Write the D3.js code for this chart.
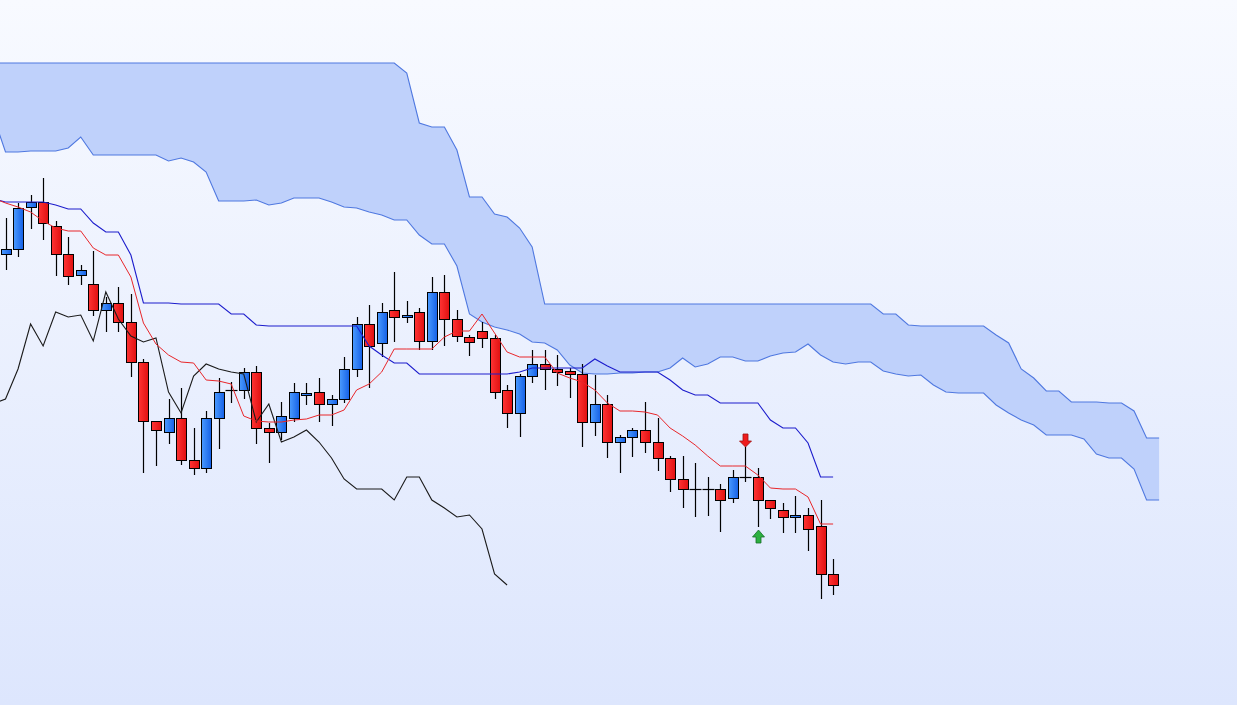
<!DOCTYPE html>
<html><head><meta charset="utf-8">
<script src="https://cdn.jsdelivr.net/npm/d3@7"></script>
<style>html,body{margin:0;padding:0;overflow:hidden;background:#eef2fe}</style>
</head><body><svg id="c" width="1237" height="705"></svg>
<script>
// ---- candle data (index 0..66) ----
const opens  = [134.6,135.1,139.3,139.8,137.4,134.6,132.5,131.6,129.0,129.7,127.8,123.8,117.9,116.8,118.2,114.0,113.2,118.2,121.0,121.0,122.8,117.2,116.8,118.2,120.5,120.8,119.6,120.1,123.1,127.6,125.7,129.0,128.3,128.8,125.9,130.8,128.1,126.3,126.9,126.2,121.0,118.7,122.4,123.6,123.1,122.9,122.6,117.8,119.6,115.8,116.3,117.0,115.8,114.2,112.1,111.1,111.1,111.1,110.2,112.3,112.3,110.0,109.0,108.3,108.5,107.4,102.6];
const highs  = [138.2,139.7,140.5,142.2,137.9,136.3,133.5,134.9,130.3,131.3,130.6,124.1,117.9,120.1,121.2,117.2,118.9,122.2,121.8,123.2,123.4,117.7,119.8,121.7,121.7,122.2,120.5,124.3,128.3,129.5,129.7,132.8,129.9,129.2,132.3,132.5,129.0,126.5,127.8,126.5,121.5,122.6,125.0,125.0,124.5,123.2,123.6,122.5,120.5,116.5,117.2,119.8,118.2,114.4,114.4,113.7,112.3,111.6,113.0,115.3,113.2,110.0,109.7,110.4,109.2,110.0,104.1];
const lows   = [133.0,134.3,137.1,136.0,132.4,131.5,131.5,128.4,126.8,126.8,122.3,112.7,113.4,115.6,113.5,112.5,112.7,115.1,119.7,120.1,115.6,113.7,116.0,117.8,119.5,117.8,117.4,119.7,122.3,121.2,124.3,125.8,127.7,125.0,125.0,125.4,125.8,124.4,125.2,120.1,117.2,116.3,121.7,121.0,121.4,120.2,115.3,116.4,114.2,112.7,114.3,114.7,112.9,110.8,109.2,108.3,108.4,106.8,109.7,111.8,107.3,108.1,106.7,106.7,104.9,100.1,100.5];
const closes = [135.1,139.2,139.8,137.7,134.6,132.4,133.0,129.0,129.7,127.8,123.8,117.9,117.0,118.2,114.0,113.2,118.2,120.8,121.0,122.8,117.2,116.8,118.4,120.8,120.7,119.6,120.1,123.1,127.6,125.4,128.8,128.3,128.5,125.9,130.8,128.1,126.4,125.8,126.2,120.8,118.7,122.4,123.6,123.1,122.8,122.6,117.8,119.6,115.8,116.3,117.0,115.8,114.2,112.1,111.1,111.1,111.1,110.0,112.3,112.3,110.0,109.2,108.3,108.5,107.1,102.6,101.5];

// ---- indicator lines (index -1..66) ----
const lineStart = -1;
const tenkan = [140.2,139.7,139.3,138.8,137.9,137.2,136.9,136.9,135.2,134.5,134.5,132.3,127.7,125.6,124.5,123.8,123.7,122.0,121.9,121.6,118.4,117.9,117.8,117.8,118.0,118.1,118.5,118.5,119.0,121.0,121.6,122.8,125.1,125.1,125.1,125.1,126.3,126.9,126.9,128.6,126.7,124.8,124.3,124.3,124.3,122.7,122.2,121.8,121.0,119.7,118.9,118.9,118.8,118.5,117.2,116.4,115.5,114.4,113.4,113.4,113.4,112.5,111.2,111.1,111.1,110.3,107.6,107.6];
const kijun  = [140.1,139.8,139.8,139.8,139.8,139.5,139.1,139.1,137.7,136.8,136.8,134.5,129.7,129.7,129.7,129.6,129.6,129.6,129.6,128.6,128.6,127.5,127.4,127.4,127.4,127.4,127.4,127.4,127.4,127.4,125.4,124.5,123.7,123.7,122.6,122.6,122.6,122.6,122.6,122.6,122.6,122.6,122.8,123.2,123.2,123.2,123.2,123.2,124.1,123.4,122.8,122.8,122.8,122.8,122.0,121.0,120.5,120.5,119.7,119.7,119.7,119.7,118.0,117.2,117.2,115.7,112.3,112.3];

// ---- cloud (index -1..92, already displaced forward) ----
const cloudStart = -1;
const senkouA = [148.5,144.8,144.8,144.9,144.9,144.9,145.2,146.3,144.5,144.5,144.5,144.5,144.5,144.5,143.9,144.2,143.8,142.8,139.9,139.9,139.9,140.0,139.5,139.7,140.2,140.2,140.2,139.8,139.3,139.2,138.8,138.5,138.0,138.0,136.5,135.6,135.6,133.4,128.6,127.8,127.3,127.0,126.6,125.8,125.7,125.0,123.5,122.7,122.6,122.6,122.7,122.7,122.8,122.8,123.2,124.2,123.3,123.6,124.3,124.3,123.9,123.9,124.4,124.7,124.8,125.6,124.5,123.8,123.6,123.8,123.8,122.9,122.6,122.4,122.5,121.5,120.8,120.7,120.7,120.7,119.5,118.7,118.0,117.5,116.5,116.5,116.5,116.1,114.6,114.2,114.2,113.1,110.0,110.0];
const senkouB = [153.7,153.7,153.7,153.7,153.7,153.7,153.7,153.7,153.7,153.7,153.7,153.7,153.7,153.7,153.7,153.7,153.7,153.7,153.7,153.7,153.7,153.7,153.7,153.7,153.7,153.7,153.7,153.7,153.7,153.7,153.7,153.7,153.7,152.7,147.7,147.3,147.3,145.0,140.3,140.3,138.6,138.3,137.2,135.3,129.6,129.6,129.6,129.6,129.6,129.6,129.6,129.6,129.6,129.6,129.6,129.6,129.6,129.6,129.6,129.6,129.6,129.6,129.6,129.6,129.6,129.6,129.6,129.6,129.6,129.6,129.6,128.6,128.6,127.5,127.4,127.4,127.4,127.4,127.4,127.4,126.5,125.7,123.1,122.2,120.9,120.9,119.8,119.8,119.8,119.7,119.7,118.9,116.2,116.2];

const displacement = 26;
const signals = [{index:59, type:"sell"}, {index:60, type:"buy"}];

// ---- drawing ----
const W = 1237, H = 705;
const svg = d3.select("#c");
const x = d3.scaleLinear().domain([0, 66]).range([5.5, 833.1]);
const y = d3.scaleLinear().domain([89.5, 160]).range([H, 0]);

const defs = svg.append("defs");
const bg = defs.append("linearGradient").attr("id","bg").attr("x1",0).attr("y1",0).attr("x2",0).attr("y2",1);
bg.append("stop").attr("offset","0%").attr("stop-color","#f8faff");
bg.append("stop").attr("offset","100%").attr("stop-color","#dde6fd");
const gb = defs.append("linearGradient").attr("id","gblue").attr("x1",0).attr("y1",0).attr("x2",1).attr("y2",0);
gb.append("stop").attr("offset","0%").attr("stop-color","#4b9bff");
gb.append("stop").attr("offset","100%").attr("stop-color","#1560e6");
const gr = defs.append("linearGradient").attr("id","gred").attr("x1",0).attr("y1",0).attr("x2",1).attr("y2",0);
gr.append("stop").attr("offset","0%").attr("stop-color","#ff3434");
gr.append("stop").attr("offset","100%").attr("stop-color","#e01010");

svg.append("rect").attr("width",W).attr("height",H).attr("fill","url(#bg)");

// cloud
const cloud = senkouA.map((a,k)=>({i:k+cloudStart, a, b:senkouB[k]}));
svg.append("path").datum(cloud)
  .attr("d", d3.area().x(d=>x(d.i)).y0(d=>y(d.a)).y1(d=>y(d.b)))
  .attr("fill","#bfd1fb");
const ln = key => d3.line().x(d=>x(d.i)).y(d=>y(d[key]));
svg.append("path").datum(cloud).attr("d", ln("a")).attr("fill","none").attr("stroke","#4f78e0").attr("stroke-width",1.1);
svg.append("path").datum(cloud).attr("d", ln("b")).attr("fill","none").attr("stroke","#4f78e0").attr("stroke-width",1.1);

// candles
const candles = opens.map((o,i)=>({i, o, h:highs[i], l:lows[i], c:closes[i]}));
const bw = 10;
const cg = svg.append("g");
candles.forEach(d=>{
  const cx = Math.round(x(d.i)) + 0.5;
  cg.append("line").attr("x1",cx).attr("x2",cx)
    .attr("y1",y(d.h)).attr("y2",y(d.l)).attr("stroke","#000").attr("stroke-width",1.2);
  const top = Math.round(y(Math.max(d.o,d.c))) + 0.5;
  const bot = Math.round(y(Math.min(d.o,d.c))) + 0.5;
  if (d.o === d.c) {
    cg.append("line").attr("x1",cx-6).attr("x2",cx+6).attr("y1",top).attr("y2",top)
      .attr("stroke","#000").attr("stroke-width",1.2);
  } else {
    cg.append("rect").attr("x",cx-bw/2).attr("y",top).attr("width",bw).attr("height",Math.max(1,bot-top))
      .attr("fill", d.c > d.o ? "url(#gblue)" : "url(#gred)")
      .attr("stroke","#000").attr("stroke-width",1);
  }
});

// indicator lines
const tk = tenkan.map((v,k)=>({i:k+lineStart, v}));
const kj = kijun.map((v,k)=>({i:k+lineStart, v}));
const ck = [];
for (let i = lineStart; i + displacement < closes.length; i++) ck.push({i, v: closes[i+displacement]});
const vl = d3.line().x(d=>x(d.i)).y(d=>y(d.v));
svg.append("path").datum(ck).attr("d", vl).attr("fill","none").attr("stroke","#1a1a1a").attr("stroke-width",1.1);
svg.append("path").datum(kj).attr("d", vl).attr("fill","none").attr("stroke","#1c1ccc").attr("stroke-width",1.1);
svg.append("path").datum(tk).attr("d", vl).attr("fill","none").attr("stroke","#e8262a").attr("stroke-width",1);

// signals
signals.forEach(s=>{
  const cx = Math.round(x(s.index)) + 0.5;
  if (s.type === "sell") {
    const t = y(highs[s.index]);
    const p = `M${cx},${t} L${cx-6},${t-6} L${cx-2.5},${t-6} L${cx-2.5},${t-13} L${cx+2.5},${t-13} L${cx+2.5},${t-6} L${cx+6},${t-6} Z`;
    svg.append("path").attr("d",p).attr("fill","#ee1c1c").attr("stroke","#a01010").attr("stroke-width",0.8);
  } else {
    const t = y(lows[s.index]) + 3;
    const p = `M${cx},${t} L${cx-6},${t+7} L${cx-2.5},${t+7} L${cx-2.5},${t+13} L${cx+2.5},${t+13} L${cx+2.5},${t+7} L${cx+6},${t+7} Z`;
    svg.append("path").attr("d",p).attr("fill","#2cb040").attr("stroke","#16702a").attr("stroke-width",0.8);
  }
});
</script></body></html>
